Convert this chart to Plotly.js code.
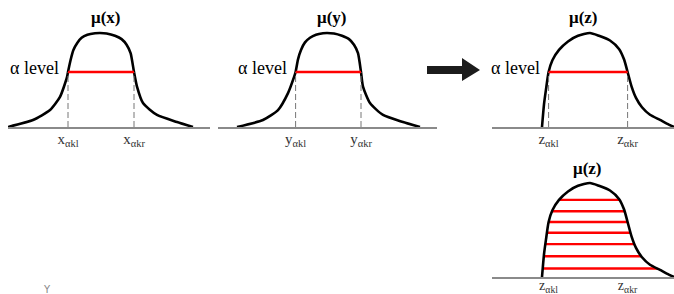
<!DOCTYPE html>
<html>
<head>
<meta charset="utf-8">
<script src="https://cdn.plot.ly/plotly-3.0.1.min.js"></script>
<style>html,body{margin:0;padding:0;background:#fff;}#chart{width:674px;height:294px;}</style>
</head>
<body>
<div id="chart"></div>
<script>
// ---- data: membership functions (universe units, membership 0..1) ----
const xU  = [0, 1.25, 2.1, 2.6, 2.95, 3.0, 3.13, 3.27, 3.47, 3.68, 3.97, 4.35, 4.6, 4.93, 5.35, 5.68, 5.93, 6.13, 6.3, 6.45, 6.75, 7.45, 8.45, 9.25];
const xMu = [0, 0.074, 0.18, 0.32, 0.53, 0.585, 0.713, 0.819, 0.897, 0.95, 0.982, 0.997, 1.0, 0.995, 0.97, 0.935, 0.875, 0.785, 0.585, 0.43, 0.255, 0.128, 0.053, 0];

const yU  = [0, 1.3, 2.05, 2.55, 2.85, 2.93, 3.05, 3.2, 3.4, 3.65, 3.95, 4.3, 4.5, 4.85, 5.25, 5.6, 5.85, 6.05, 6.2, 6.3, 6.65, 7.3, 8.3, 9.15];
const yMu = [0, 0.074, 0.18, 0.36, 0.53, 0.585, 0.72, 0.82, 0.9, 0.95, 0.982, 0.997, 1.0, 0.995, 0.97, 0.935, 0.875, 0.785, 0.585, 0.43, 0.255, 0.128, 0.053, 0];

const zU  = [0, 0.1, 0.2, 0.33, 0.52, 0.85, 1.3, 1.8, 2.4, 2.85, 3.4, 3.85, 4.1, 4.28, 4.48, 4.7, 5.0, 5.4, 5.9, 6.3, 6.6];
const zMu = [0, 0.24, 0.40, 0.585, 0.71, 0.82, 0.91, 0.97, 1.0, 0.97, 0.92, 0.83, 0.72, 0.585, 0.43, 0.31, 0.21, 0.13, 0.075, 0.03, 0];

const alpha = 0.585;
const xCut = [3.0, 6.3];
const yCut = [2.93, 6.2];
const zCut = [0.33, 4.28];

// alpha-cuts of mu(z)
const cutLevels = [0.82, 0.70, 0.585, 0.47, 0.35, 0.22, 0.09];
const cutLeft   = [0.85, 0.50, 0.33, 0.25, 0.17, 0.09, 0.04];
const cutRight  = [3.87, 4.13, 4.28, 4.43, 4.63, 4.97, 5.76];

const xTicks = ['x<sub>αkl</sub>', 'x<sub>αkr</sub>'];
const yTicks = ['y<sub>αkl</sub>', 'y<sub>αkr</sub>'];
const zTicks = ['z<sub>αkl</sub>', 'z<sub>αkr</sub>'];
const titles = ['μ(x)', 'μ(y)', 'μ(z)', 'μ(z)'];
const levelText = 'α level';

// ---- helpers ----
const W = 674, H = 294;
const SERIF = 'Liberation Serif, Times New Roman, serif';
const CURVE = {color: '#000', width: 2.6, shape: 'spline', smoothing: 0.6};
const RED = {color: '#ff0000', width: 2.4};
const DASH = {color: '#777', width: 1, dash: '6px,3px'};

function panel(ax, u, mu, cut) {
  const xa = 'x' + ax, ya = 'y' + ax;
  const tr = [{x: u, y: mu, xaxis: xa, yaxis: ya, mode: 'lines', line: CURVE, hoverinfo: 'skip'}];
  if (cut) {
    tr.push({x: [cut[0], cut[0], null, cut[1], cut[1]], y: [0, alpha, null, 0, alpha], xaxis: xa, yaxis: ya, mode: 'lines', line: DASH, hoverinfo: 'skip'});
    tr.push({x: cut, y: [alpha, alpha], xaxis: xa, yaxis: ya, mode: 'lines', line: RED, hoverinfo: 'skip'});
  }
  return tr;
}

let traces = [];
traces = traces.concat(panel('', xU, xMu, xCut));
traces = traces.concat(panel('2', yU, yMu, yCut));
traces = traces.concat(panel('3', zU, zMu, zCut));
// panel 4: alpha-cuts
const cx = [], cy = [];
cutLevels.forEach((l, i) => { cx.push(cutLeft[i], cutRight[i], null); cy.push(l, l, null); });
traces.push({x: cx, y: cy, xaxis: 'x4', yaxis: 'y4', mode: 'lines', line: RED, hoverinfo: 'skip'});
traces.push({x: zU, y: zMu, xaxis: 'x4', yaxis: 'y4', mode: 'lines', line: CURVE, hoverinfo: 'skip'});
traces.forEach(t => t.showlegend = false);

const PXU = 20, PXM = 94;
function xaxis(x0px, x1px, zeroPx, anchor, vals, text, standoff, fs) {
  return {
    domain: [x0px / W, x1px / W],
    range: [(x0px - zeroPx) / PXU, (x1px - zeroPx) / PXU],
    anchor: anchor, showgrid: false, zeroline: false,
    showline: true, linecolor: '#8a8a8a', linewidth: 1.5,
    ticks: '', tickvals: vals, ticktext: text, ticklabelstandoff: standoff,
    tickfont: {family: SERIF, size: fs, color: '#333'}
  };
}
function yaxis(basePx, topPx) {
  return {
    domain: [1 - basePx / H, 1 - topPx / H],
    range: [0, (basePx - topPx) / PXM],
    visible: false, showgrid: false, zeroline: false
  };
}

function titleAnn(xr, yr, x, y, t) {
  return {xref: xr, yref: yr, x: x, y: y, text: t, showarrow: false, xanchor: 'center', yanchor: 'middle',
          font: {family: SERIF, size: 17, color: '#000', weight: 'bold'}};
}
function levelAnn(xr, yr, x) {
  return {xref: xr, yref: yr, x: x, y: alpha + 0.04, text: levelText, showarrow: false, xanchor: 'right', yanchor: 'middle', xshift: -7,
          font: {family: SERIF, size: 18, color: '#000'}};
}

const px = v => v / W, py = v => 1 - v / H;
const arrowPath = 'M ' + px(427) + ' ' + py(66) + ' L ' + px(462) + ' ' + py(66) + ' L ' + px(462) + ' ' + py(58) +
  ' L ' + px(480) + ' ' + py(70) + ' L ' + px(462) + ' ' + py(81) + ' L ' + px(462) + ' ' + py(74) + ' L ' + px(427) + ' ' + py(74) + ' Z';

const layout = {
  width: W, height: H, margin: {l: 0, r: 0, t: 0, b: 0},
  paper_bgcolor: '#fff', plot_bgcolor: 'rgba(0,0,0,0)',
  xaxis:  xaxis(8, 210, 8, 'y', xCut, xTicks, -3, 15),
  yaxis:  yaxis(127, 0),
  xaxis2: xaxis(218, 437, 237, 'y2', yCut, yTicks, -3, 15),
  yaxis2: yaxis(127, 0),
  xaxis3: xaxis(492, 674, 542, 'y3', zCut, zTicks, -3, 15),
  yaxis3: yaxis(127, 0),
  xaxis4: xaxis(492, 674, 542, 'y4', zCut, zTicks, -5, 14),
  yaxis4: yaxis(277, 150),
  annotations: [
    titleAnn('x', 'y', 4.85, 1.16, titles[0]),
    titleAnn('x2', 'y2', 4.7, 1.16, titles[1]),
    titleAnn('x3', 'y3', 2.05, 1.16, titles[2]),
    titleAnn('x4', 'y4', 2.25, 1.15, titles[3]),
    levelAnn('x', 'y', xCut[0]),
    levelAnn('x2', 'y2', yCut[0]),
    levelAnn('x3', 'y3', zCut[0]),
    {xref: 'paper', yref: 'paper', x: px(41), y: py(289), yanchor: 'middle', text: 'Y', showarrow: false,
     font: {family: 'DejaVu Sans', size: 10, color: '#888'}}
  ],
  shapes: [
    {type: 'path', xref: 'paper', yref: 'paper', path: arrowPath, fillcolor: '#1c1c1c', line: {width: 0}}
  ]
};

Plotly.newPlot('chart', traces, layout, {staticPlot: true, displayModeBar: false});
</script>
</body>
</html>
